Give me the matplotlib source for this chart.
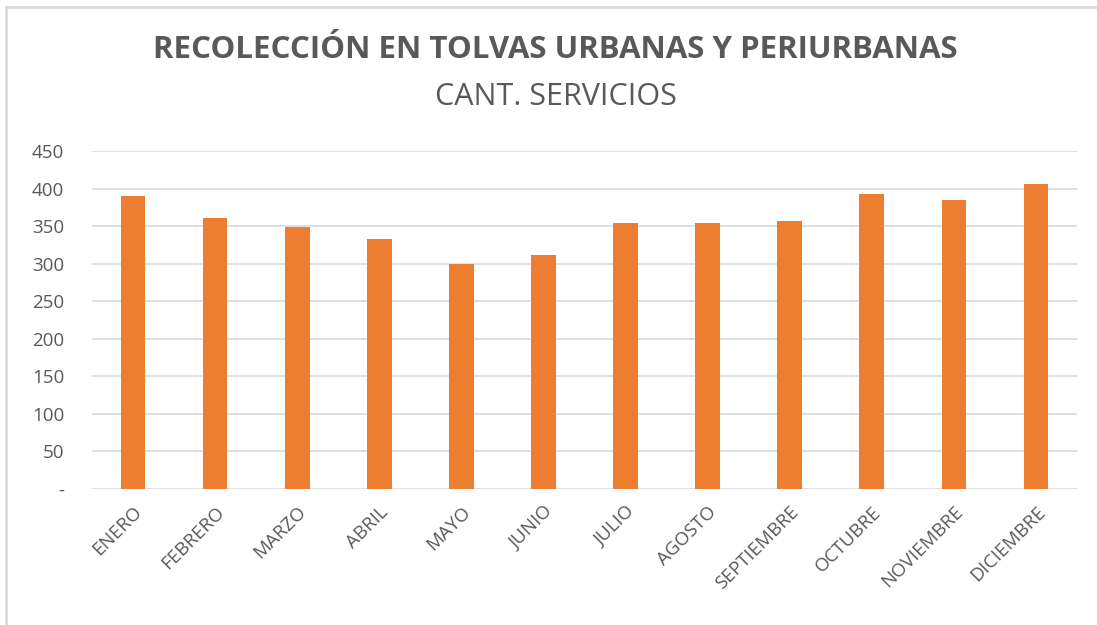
#!/usr/bin/env python3
"""Recolección en tolvas urbanas y periurbanas: cantidad de servicios por mes."""

import matplotlib

matplotlib.use("Agg")
import matplotlib.pyplot as plt
from matplotlib.lines import Line2D
from matplotlib.ticker import FuncFormatter

MONTHS = [
    "ENERO", "FEBRERO", "MARZO", "ABRIL", "MAYO", "JUNIO",
    "JULIO", "AGOSTO", "SEPTIEMBRE", "OCTUBRE", "NOVIEMBRE", "DICIEMBRE",
]
SERVICES = [390, 361, 349, 333, 299, 311, 354, 354, 357, 393, 385, 406]
Y_TICKS = [0, 50, 100, 150, 200, 250, 300, 350, 400, 450]

TITLE = "RECOLECCIÓN EN TOLVAS URBANAS Y PERIURBANAS"
SUBTITLE = "CANT. SERVICIOS"

BAR_COLOR = "#ed7d31"
TEXT_COLOR = "#595959"
GRID_COLOR = "#d9d9d9"
FONT = ["Open Sans", "DejaVu Sans"]


def main() -> None:
    W, H = 1097, 625
    fig = plt.figure(figsize=(W / 100, H / 100), dpi=100)
    ax = fig.add_axes([92 / W, 1 - 489 / H, (1077 - 92) / W, (489 - 151) / H])

    x = range(len(MONTHS))
    ax.bar(x, SERVICES, width=0.3, color=BAR_COLOR, zorder=3)

    ax.set_xlim(-0.5, len(MONTHS) - 0.5)
    ax.set_ylim(0, 450)
    ax.set_yticks(Y_TICKS)
    ax.yaxis.set_major_formatter(
        FuncFormatter(lambda v, _: "-" if v == 0 else f"{int(v)}")
    )
    ax.set_xticks(list(x))
    ax.set_xticklabels(MONTHS, rotation=45, ha="right", rotation_mode="anchor")
    ax.grid(axis="y", color=GRID_COLOR, linewidth=1.2, zorder=0)
    for spine in ax.spines.values():
        spine.set_visible(False)
    ax.tick_params(length=0, colors=TEXT_COLOR, labelsize=13.5)
    ax.tick_params(axis="y", pad=20)
    ax.tick_params(axis="x", pad=10)
    for lbl in ax.get_xticklabels() + ax.get_yticklabels():
        lbl.set_family(FONT)
        lbl.set_color(TEXT_COLOR)

    fig.text(555 / W, 1 - 50 / H, TITLE, ha="center", va="center",
             fontsize=22.5, fontweight="bold", color=TEXT_COLOR, family=FONT)
    fig.text(556 / W, 1 - 97 / H, SUBTITLE, ha="center", va="center",
             fontsize=22, color=TEXT_COLOR, family=FONT)

    # light chart-area border on the top and left edges
    fig.add_artist(Line2D([6 / W, 1], [1 - 7 / H, 1 - 7 / H],
                          color=GRID_COLOR, linewidth=2, transform=fig.transFigure))
    fig.add_artist(Line2D([6 / W, 6 / W], [0, 1 - 7 / H],
                          color=GRID_COLOR, linewidth=2, transform=fig.transFigure))

    fig.savefig("out.png", dpi=100)
    plt.close(fig)


if __name__ == "__main__":
    main()
